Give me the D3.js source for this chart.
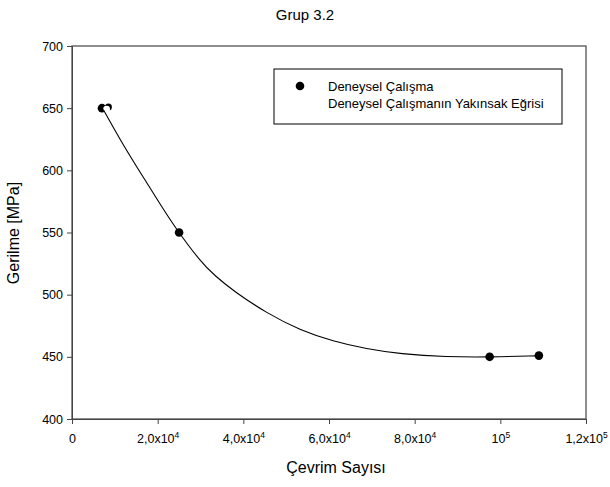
<!DOCTYPE html>
<html>
<head>
<meta charset="utf-8">
<script src="https://cdn.jsdelivr.net/npm/d3@7"></script>
<style>
  body { margin: 0; background: #fff; }
  text { font-family: "Liberation Sans", Arial, sans-serif; fill: #000; }
</style>
</head>
<body>
<svg id="chart"></svg>
<script>
const width = 610, height = 487;

// measured points (Deneysel Çalışma)
const cycles = [7000, 25000, 97500, 109000];
const stress = [650, 550, 450, 451];
// partly hidden marker next to first point
const extraPoint = [8500, 651];

// fitted curve
const fitCycles = [7300, 12000, 17000, 21000, 24400, 29900, 33400, 37700, 45500, 53200, 61000, 68800, 76600, 87500, 97600, 108500];
const fitStress = [649, 620, 592.5, 570.5, 552.5, 527, 515, 503, 485, 471.5, 462.5, 456.3, 452.3, 449.9, 449.8, 450.8];

const xTicks = [0, 20000, 40000, 60000, 80000, 100000, 120000];
const xTickLabels = [["0", ""], ["2,0x10", "4"], ["4,0x10", "4"], ["6,0x10", "4"], ["8,0x10", "4"], ["10", "5"], ["1,2x10", "5"]];
const yTicks = [400, 450, 500, 550, 600, 650, 700];

const legendLabels = ["Deneysel Çalışma", "Deneysel Çalışmanın Yakınsak Eğrisi"];

const margin = {top: 46, right: 24, bottom: 68, left: 72};

const svg = d3.select("#chart")
  .attr("width", width)
  .attr("height", height);

const x = d3.scaleLinear()
  .domain([0, 120000])
  .range([margin.left, width - margin.right]);

const y = d3.scaleLinear()
  .domain([400, 700])
  .range([height - margin.bottom, margin.top]);

const axisColor = "#444";

// frame
svg.append("rect")
  .attr("x", margin.left)
  .attr("y", margin.top)
  .attr("width", x(120000) - x(0))
  .attr("height", y(400) - y(700))
  .attr("fill", "none")
  .attr("stroke", axisColor)
  .attr("stroke-width", 1.2);

// x axis
const xAxis = svg.append("g")
  .attr("transform", `translate(0, ${y(400)})`)
  .call(d3.axisBottom(x).tickValues(xTicks).tickSize(5).tickFormat(""));
xAxis.select(".domain").attr("stroke", axisColor);
xAxis.selectAll(".tick line").attr("stroke", axisColor);

xAxis.selectAll(".tick")
  .append("text")
  .attr("y", 24)
  .attr("text-anchor", "middle")
  .style("font-size", "12.5px")
  .each(function(d, i) {
    const t = d3.select(this);
    t.append("tspan").text(xTickLabels[i][0]);
    if (xTickLabels[i][1]) {
      t.append("tspan")
        .attr("dy", -5)
        .style("font-size", "8.5px")
        .text(xTickLabels[i][1]);
    }
  });

// y axis
const yAxis = svg.append("g")
  .attr("transform", `translate(${x(0)}, 0)`)
  .call(d3.axisLeft(y).tickValues(yTicks).tickSize(5).tickPadding(4));
yAxis.select(".domain").attr("stroke", axisColor);
yAxis.selectAll(".tick line").attr("stroke", axisColor);
yAxis.selectAll(".tick text")
  .style("font-size", "12.5px")
  .style("font-family", "Liberation Sans, Arial, sans-serif")
  .attr("fill", "#000");

// title
svg.append("text")
  .attr("x", 305)
  .attr("y", 20)
  .attr("text-anchor", "middle")
  .style("font-size", "15px")
  .text("Grup 3.2");

// axis titles
svg.append("text")
  .attr("x", 336)
  .attr("y", 473)
  .attr("text-anchor", "middle")
  .style("font-size", "16px")
  .text("Çevrim Sayısı");

svg.append("text")
  .attr("transform", `translate(19, 233) rotate(-90)`)
  .attr("text-anchor", "middle")
  .style("font-size", "16px")
  .text("Gerilme [MPa]");

// points
const pts = cycles.map((c, i) => ({c: c, s: stress[i]}));
svg.append("g")
  .selectAll("circle")
  .data(pts)
  .enter()
  .append("circle")
  .attr("cx", d => x(d.c))
  .attr("cy", d => y(d.s))
  .attr("r", 4.3)
  .attr("fill", "#000");

// crescent marker
svg.append("circle")
  .attr("cx", x(extraPoint[0]))
  .attr("cy", y(extraPoint[1]))
  .attr("r", 3.5)
  .attr("fill", "#000");
svg.append("circle")
  .attr("cx", x(extraPoint[0]) - 1.8)
  .attr("cy", y(extraPoint[1]) + 2.2)
  .attr("r", 3.4)
  .attr("fill", "#fff");

// fitted curve
const fit = fitCycles.map((c, i) => [c, fitStress[i]]);
svg.append("path")
  .datum(fit)
  .attr("fill", "none")
  .attr("stroke", "#000")
  .attr("stroke-width", 1.1)
  .attr("d", d3.line()
    .x(d => x(d[0]))
    .y(d => y(d[1]))
    .curve(d3.curveBasis));

// legend
const legend = svg.append("g").attr("transform", "translate(274, 69)");
legend.append("rect")
  .attr("width", 288)
  .attr("height", 55)
  .attr("fill", "#fff")
  .attr("stroke", "#000")
  .attr("stroke-width", 1);
legend.append("circle")
  .attr("cx", 26)
  .attr("cy", 17)
  .attr("r", 4.3)
  .attr("fill", "#000");
legend.selectAll("text.lbl")
  .data(legendLabels)
  .enter()
  .append("text")
  .attr("class", "lbl")
  .attr("x", 54)
  .attr("y", (d, i) => 22 + i * 17)
  .style("font-size", "13px")
  .text(d => d);
</script>
</body>
</html>
